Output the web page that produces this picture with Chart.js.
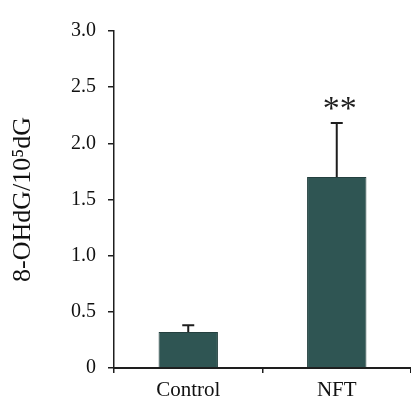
<!DOCTYPE html>
<html>
<head>
<meta charset="utf-8">
<script src="https://cdn.jsdelivr.net/npm/chart.js@4"></script>
<style>
  html, body { margin: 0; padding: 0; background: #fff; }
  #wrap { width: 411px; height: 405px; position: relative; }
</style>
</head>
<body>
<div id="wrap"><canvas id="chart"></canvas></div>
<script>
const groups = ['Control', 'NFT'];
const means = [0.32, 1.70];
const errors = [0.06, 0.48];
const marks = ['', '**'];
const yTicks = [0, 0.5, 1.0, 1.5, 2.0, 2.5, 3.0];

const ink = '#1e1e1e';
const serif = "'Liberation Serif', 'DejaVu Serif', serif";

// upward error bars plus significance stars
const errorBars = {
  id: 'errorBars',
  afterDatasetsDraw(chart) {
    const ctx = chart.ctx;
    const yScale = chart.scales.y;
    const meta = chart.getDatasetMeta(0);
    ctx.save();
    meta.data.forEach((bar, i) => {
      const top = yScale.getPixelForValue(means[i] + errors[i]);
      ctx.strokeStyle = ink;
      ctx.lineWidth = 2;
      ctx.beginPath();
      ctx.moveTo(bar.x, bar.y);
      ctx.lineTo(bar.x, top);
      ctx.moveTo(bar.x - 6, top);
      ctx.lineTo(bar.x + 6, top);
      ctx.stroke();
      if (marks[i]) {
        ctx.fillStyle = ink;
        ctx.font = '34px ' + serif;
        ctx.textAlign = 'center';
        ctx.textBaseline = 'middle';
        ctx.fillText(marks[i], bar.x + 3, top - 13);
      }
    });
    ctx.restore();
  }
};

new Chart(document.getElementById('chart'), {
  type: 'bar',
  data: {
    labels: groups,
    datasets: [{
      data: means,
      backgroundColor: '#2f5553',
      borderColor: '#24403f',
      borderWidth: 1,
      barPercentage: 0.4,
      categoryPercentage: 1.0
    }]
  },
  options: {
    responsive: true,
    maintainAspectRatio: false,
    animation: false,
    layout: { padding: { top: 31, right: 0, left: 0, bottom: 0 } },
    plugins: {
      legend: { display: false },
      tooltip: { enabled: false }
    },
    scales: {
      x: {
        offset: true,
        grid: { offset: true, drawOnChartArea: false, drawTicks: true, tickLength: 5, color: ink, lineWidth: 1.5 },
        border: { color: ink, width: 2 },
        ticks: { color: '#111', font: { family: serif, size: 21 }, padding: 5 },
        afterFit(scale) { scale.height = 37; }
      },
      y: {
        min: 0,
        max: 3,
        afterBuildTicks(scale) { scale.ticks = yTicks.map(v => ({ value: v })); },
        grid: { drawOnChartArea: false, drawTicks: true, tickLength: 6, color: ink, lineWidth: 1.5 },
        border: { color: ink, width: 1.5 },
        ticks: {
          color: '#111',
          font: { family: serif, size: 20 },
          padding: 12,
          callback: v => v === 0 ? '0' : v.toFixed(1)
        },
        title: {
          display: true,
          text: '8-OHdG/10\u2075dG',
          color: '#111',
          font: { family: serif, size: 26 },
          padding: { top: 8, bottom: 10 }
        },
        afterFit(scale) { scale.width = 114; }
      }
    }
  },
  plugins: [errorBars]
});
</script>
</body>
</html>
